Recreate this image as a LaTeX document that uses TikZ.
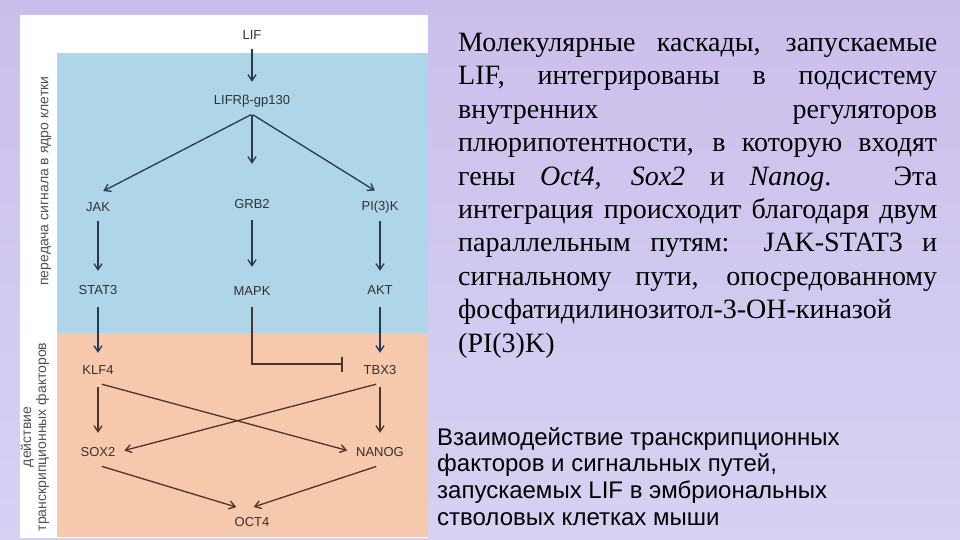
\documentclass[tikz,border=0pt]{standalone}
\usepackage{fontspec}
\setmainfont{Liberation Serif}
\setsansfont{Liberation Sans}
\usetikzlibrary{arrows.meta,positioning,calc}

\definecolor{lilactop}{RGB}{204,190,236}
\definecolor{lilacbot}{RGB}{214,210,242}
\definecolor{panelblue}{RGB}{174,214,232}
\definecolor{panelorange}{RGB}{246,201,172}
\definecolor{arrowblue}{RGB}{40,56,78}
\definecolor{arrowbrown}{RGB}{76,52,40}
\definecolor{genetext}{RGB}{50,50,50}

\begin{document}
\begin{tikzpicture}[
  x=1pt,y=-1pt,
  node distance=82pt and 10pt, on grid,
  every node/.style={font=\sffamily\fontsize{13}{15}\selectfont,align=center},
  gene/.style={text=genetext,minimum height=26pt,inner sep=3pt},
  sidelabel/.style={text=genetext!85,rotate=90,font=\sffamily\fontsize{14}{15}\selectfont},
  sig/.style={-{Straight Barb[length=6pt,width=8pt]},line width=1.3pt,draw=arrowblue,shorten >=6pt,shorten <=1pt},
  tf/.style={sig,draw=arrowbrown,shorten <=4pt},
  block/.style={-{Bar[width=15pt]},line width=1.1pt,draw=arrowbrown}
]
\useasboundingbox (0,0) rectangle (960,540);
\shade[top color=lilactop,bottom color=lilacbot] (0,0) rectangle (960,540);

% panel with the two zones
\fill[white] (20,15) rectangle (428,538);
\fill[panelblue] (57,53) rectangle (428,333);
\fill[panelorange] (57,333) rectangle (428,537);

% signalling part
\node[gene] (lif) at (252,35) {LIF};
\node[gene] (lifr) at (252,101) {LIFRβ-gp130};
\node[gene] (jak) at (98,207) {JAK};
\node[gene] (grb2) at (252,204) {GRB2};
\node[gene] (pik) at (380,207) {PI(3)K};
\node[gene,below=83pt of jak] (stat3) {STAT3};
\node[gene,below=87pt of grb2] (mapk) {MAPK};
\node[gene,below=83pt of pik] (akt) {AKT};

% transcription factors
\node[gene,below=80pt of stat3] (klf4) {KLF4};
\node[gene,below=80pt of akt] (tbx3) {TBX3};
\node[gene,below=of klf4] (sox2) {SOX2};
\node[gene,below=of tbx3] (nanog) {NANOG};
\node[gene] (oct4) at (252,522) {OCT4};

\node[sidelabel] (signal) at (46,181) {передача сигнала в ядро клетки};
\node[sidelabel] (action) at (35,437) {действие\\транскрипционных факторов};

\draw[sig] (lif) -- (lifr);
\draw[sig] (lifr.south) -- (jak.north);
\draw[sig,shorten >=27pt] (lifr.south) -- (grb2.north);
\draw[sig] (lifr.south) -- (pik.north);
\draw[sig] (jak) -- (stat3);
\draw[sig,shorten >=11pt,shorten <=3pt] (grb2) -- (mapk);
\draw[sig] (pik) -- (akt);
\draw[sig,shorten >=4pt,shorten <=4pt] (stat3) -- (klf4);
\draw[sig,shorten >=4pt,shorten <=4pt] (akt) -- (tbx3);
\draw[block,shorten <=3pt,shorten >=18pt] (mapk.south) |- ([yshift=6pt]tbx3.west);

\draw[tf] (klf4) -- (sox2);
\draw[tf] (tbx3) -- (nanog);
\draw[tf] (klf4.south) -- (nanog.west);
\draw[tf] (tbx3.south) -- (sox2.east);
\draw[tf] (sox2.south) -- ([xshift=-10pt]oct4.north);
\draw[tf] (nanog.south) -- ([xshift=-4pt]oct4.north);

% texts on the slide
\node[font=\rmfamily\fontsize{28}{33.4}\selectfont,align=left,anchor=north west,inner sep=0pt] (desc) at (458,33) {%
\makebox[479pt][s]{Молекулярные каскады, запускаемые}\\
\makebox[479pt][s]{LIF, интегрированы в подсистему}\\
\makebox[479pt][s]{внутренних регуляторов}\\
\makebox[479pt][s]{плюрипотентности, в которую входят}\\
\makebox[479pt][s]{гены \textit{Oct4,} \textit{Sox2} и \textit{Nanog}. Эта}\\
\makebox[479pt][s]{интеграция происходит благодаря двум}\\
\makebox[479pt][s]{параллельным путям: JAK-STAT3 и}\\
\makebox[479pt][s]{сигнальному пути, опосредованному}\\
фосфатидилинозитол-3-ОН-киназой\\
(PI(3)K)};
\node[font=\sffamily\fontsize{24}{26.7}\selectfont,align=left,anchor=north west,inner sep=0pt] (caption) at (437,427) {%
Взаимодействие транскрипционных\\
факторов и сигнальных путей,\\
запускаемых LIF в эмбриональных\\
стволовых клетках мыши};
\end{tikzpicture}
\end{document}
